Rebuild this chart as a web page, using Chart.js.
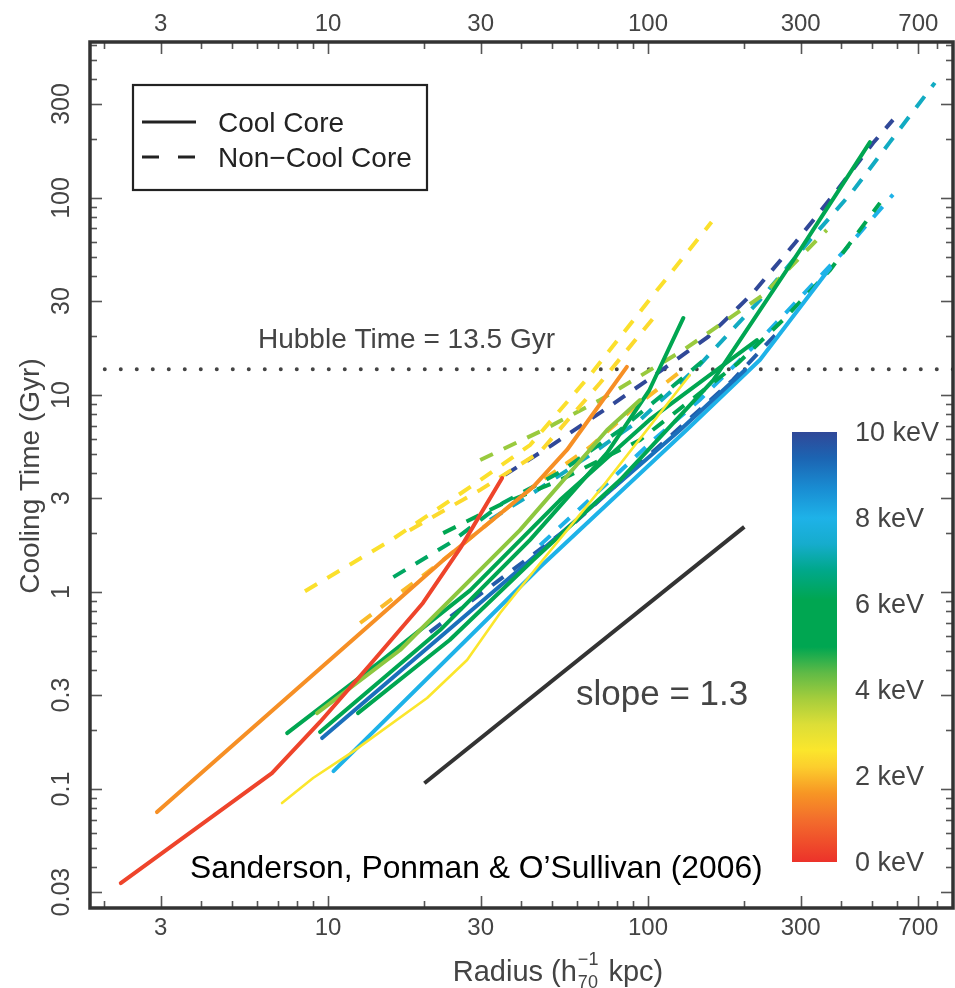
<!DOCTYPE html>
<html><head><meta charset="utf-8">
<script src="https://cdn.jsdelivr.net/npm/chart.js@4/dist/chart.umd.min.js"></script>
<style>html,body{margin:0;padding:0;background:#fff}canvas{display:block}</style>
</head><body>
<canvas id="c" width="955" height="988"></canvas>
<script>
// ---------------- DATA ----------------
const xTickValues = [3, 10, 30, 100, 300, 700];
const yTickValues = [0.03, 0.1, 0.3, 1, 3, 10, 30, 100, 300];
const colorbarTicks = [0, 2, 4, 6, 8, 10];
const hubbleTime = 13.5;
const slopeLine = [[20, 0.107], [200, 2.14]];

// Cool-core clusters (solid): [radius kpc, cooling time Gyr]
const cc1 = [[2.25,0.0333],[6.68,0.1205],[9.44,0.219],[13.5,0.426],[19.8,0.88],[25.9,1.67],[35.0,3.79]];
const cc2 = [[2.92,0.0764],[22.9,1.45],[43.7,3.41],[55.8,5.26],[85.9,13.9]];
const cc3 = [[7.18,0.0849],[8.98,0.1138],[11.9,0.154],[20.4,0.29],[27.2,0.452],[34.5,0.782],[45.0,1.34],[70.8,3.30],[135,12.6]];
const cc4 = [[9.24,0.243],[16.8,0.508],[39.8,2.06],[74.5,6.64],[94.4,9.43]];
const cc5 = [[7.45,0.1924],[14.5,0.441],[27.8,1.02],[53.1,2.93],[101,7.47],[219,19.0]];
const cc6 = [[9.44,0.1946],[22.4,0.641],[42.8,1.84],[74.5,5.08],[101,10.6],[129,24.6]];
const cc7 = [[12.4,0.243],[24.0,0.571],[43.7,1.45],[81.8,3.70],[160,11.9],[299,54.5],[494,192]];
const cc8 = [[9.58,0.1815],[42.8,1.45],[126,6.64],[201,13.4]];
const cc9 = [[10.4,0.1234],[46.0,1.34],[132,6.64],[224,15.1],[371,44.2]];
const coolCoreProfiles = [cc1, cc2, cc3, cc4, cc5, cc6, cc7, cc8, cc9];
const coolCoreKT = [0.3, 1.5, 2.6, 4.0, 5.5, 5.8, 6.0, 9.2, 8.0];

// Non-cool-core clusters (dashed)
const nc1 = [[8.47,1.01],[15.8,1.84],[28.4,3.49],[42.8,5.57],[65.9,12.6],[101,30.4],[158,75.5]];
const nc2 = [[18.0,2.06],[29.9,3.30],[46.0,5.14],[70.8,11.5],[109,27.0]];
const nc3 = [[29.9,4.68],[47.0,6.64],[70.8,9.43],[129,16.9],[229,32.2],[362,68.8]];
const nc4 = [[16.0,1.19],[24.0,1.77],[35.2,2.83],[53.1,4.06],[81.8,6.64],[126,11.9],[156,16.0]];
const nc5 = [[22.9,1.99],[34.5,2.77],[53.1,3.70],[94.4,5.91],[191,14.5],[264,24.0],[371,43.1],[531,94.4]];
const nc6 = [[35.7,3.93],[50.1,5.57],[74.5,8.59],[107,12.9],[154,19.7],[213,33.0],[288,59.1],[384,106],[505,190],[583,249]];
const nc7 = [[32.1,2.32],[43.7,3.18],[64.4,4.84],[94.4,7.47],[145,14.2],[224,30.4],[321,61.2],[434,107],[570,192],[788,384]];
const nc8 = [[46.0,1.73],[70.8,3.30],[104,5.91],[145,9.43],[224,19.0],[413,54.5],[583,104]];
const nc9 = [[12.6,0.696],[21.9,1.37],[43.7,3.41],[65.9,5.45],[92.5,8.90],[132,13.9]];
const nc10 = [[20.8,0.626],[57.0,2.14],[101,4.96],[184,11.9],[253,20.6]];
const nonCoolCoreProfiles = [nc1, nc2, nc3, nc4, nc5, nc6, nc7, nc8, nc9, nc10];
const nonCoolCoreKT = [2.5, 2.4, 3.9, 6.3, 5.8, 10, 7.3, 8.0, 2.0, 9.6];

// ---------------- STYLE ----------------
const FONT = '"Liberation Sans", Arial, Helvetica, sans-serif';
const cmapStops = [
  [0,[236,50,42]],[1,[243,110,44]],[1.6,[247,150,36]],[2.2,[252,205,45]],[2.6,[251,230,44]],
  [3.2,[220,222,55]],[3.8,[165,205,60]],[4.4,[95,186,70]],[5.0,[0,166,81]],[6.1,[0,166,81]],
  [6.8,[0,168,140]],[7.4,[22,172,205]],[8.0,[30,178,232]],[8.7,[25,140,210]],[9.4,[28,100,178]],[10,[48,72,152]]
];
function kTColor(k){
  for (let i=1;i<cmapStops.length;i++){
    if (k <= cmapStops[i][0]){
      const [k0,c0]=cmapStops[i-1],[k1,c1]=cmapStops[i];
      const f=(k-k0)/(k1-k0);
      const c=c0.map((v,j)=>Math.round(v+(c1[j]-v)*f));
      return `rgb(${c[0]},${c[1]},${c[2]})`;
    }
  }
  const c=cmapStops[cmapStops.length-1][1];
  return `rgb(${c[0]},${c[1]},${c[2]})`;
}
const toXY = arr => arr.map(p => ({x:p[0], y:p[1]}));

const datasets = [];
nonCoolCoreProfiles.forEach((p,i)=>datasets.push({
  data: toXY(p), borderColor: kTColor(nonCoolCoreKT[i]), borderWidth: 4,
  borderDash:[14,12], borderCapStyle:'butt', fill:false, pointRadius:0, order:2
}));
coolCoreProfiles.forEach((p,i)=>datasets.push({
  data: toXY(p), borderColor: kTColor(coolCoreKT[i]), borderWidth: (i===2?2.6:4),
  borderCapStyle:'round', borderJoinStyle:'round', fill:false, pointRadius:0, order:1
}));
datasets.push({data: toXY(slopeLine), borderColor:'#333', borderWidth:4, pointRadius:0, order:1});
datasets.push({data: [{x:1.8,y:hubbleTime},{x:900,y:hubbleTime}], borderColor:'#444', borderWidth:4,
  borderDash:[0,16], borderDashOffset:1, borderCapStyle:'round', pointRadius:0, order:3});

function isMajor(v, list){ return list.some(t => Math.abs(Math.log10(v)-Math.log10(t))<1e-6); }

const decorPlugin = {
  id:'decor',
  afterDraw(chart){
    const {ctx, chartArea:a, scales:{x,y}} = chart;
    ctx.save();
    // tick marks (inward) on all four sides
    ctx.strokeStyle='#555'; ctx.lineWidth=1.6;
    const seg=(x1,y1,x2,y2)=>{ctx.beginPath();ctx.moveTo(x1,y1);ctx.lineTo(x2,y2);ctx.stroke();};
    for (let e=0;e<=3;e++) for (let m=1;m<=9;m++){
      const v=m*Math.pow(10,e); if (v<x.min||v>x.max) continue;
      const px=Math.round(x.getPixelForValue(v))+0.5; const L=isMajor(v,xTickValues)?12:7;
      seg(px,a.bottom,px,a.bottom-L); seg(px,a.top,px,a.top+L);
    }
    for (let e=-2;e<=2;e++) for (let m=1;m<=9;m++){
      const v=m*Math.pow(10,e); if (v<y.min||v>y.max) continue;
      const py=Math.round(y.getPixelForValue(v))+0.5; const L=isMajor(v,yTickValues)?12:7;
      seg(a.left,py,a.left+L,py); seg(a.right,py,a.right-L,py);
    }
    // frame
    ctx.strokeStyle='#333'; ctx.lineWidth=3.5;
    ctx.strokeRect(a.left,a.top,a.right-a.left,a.bottom-a.top);

    // tick labels
    ctx.fillStyle='#444'; ctx.font='24px '+FONT; ctx.textAlign='center'; ctx.textBaseline='middle';
    xTickValues.forEach(v=>{ const px=x.getPixelForValue(v); ctx.fillText(String(v),px,928); ctx.fillText(String(v),px,24); });
    ctx.font='25px '+FONT;
    yTickValues.forEach(v=>{ const py=y.getPixelForValue(v);
      ctx.save(); ctx.translate(62,py); ctx.rotate(-Math.PI/2); ctx.fillText(String(v),0,0); ctx.restore(); });
    // axis titles
    ctx.font='28px '+FONT;
    ctx.save(); ctx.translate(31,(a.top+a.bottom)/2+1); ctx.rotate(-Math.PI/2); ctx.fillText('Cooling Time (Gyr)',0,0); ctx.restore();
    // Radius (h_70^-1 kpc)
    ctx.textBaseline='alphabetic'; ctx.textAlign='left';
    const t1='Radius (h', t2=' kpc)';
    ctx.font='29px '+FONT; const w1=ctx.measureText(t1).width, w2=ctx.measureText(t2).width;
    ctx.font='18px '+FONT; const ws=Math.max(ctx.measureText('\u22121').width, ctx.measureText('70').width);
    let sx=558-(w1+ws+w2+3)/2; const by=981;
    ctx.font='29px '+FONT; ctx.fillText(t1,sx,by); sx+=w1+1;
    ctx.font='18px '+FONT; ctx.fillText('\u22121',sx,by-16); ctx.fillText('70',sx,by+7); sx+=ws+2;
    ctx.font='29px '+FONT; ctx.fillText(t2,sx,by);

    // Hubble time label
    ctx.fillStyle='#444'; ctx.font='28px '+FONT;
    ctx.fillText('Hubble Time = 13.5 Gyr',258,348);
    // slope label
    ctx.font='35px '+FONT; ctx.fillText('slope = 1.3',576,705);
    // citation
    ctx.fillStyle='#000'; ctx.font='31.8px '+FONT;
    ctx.fillText('Sanderson, Ponman & O\u2019Sullivan (2006)',190,878);

    // legend box
    ctx.fillStyle='#fff'; ctx.fillRect(133,85,294,105);
    ctx.strokeStyle='#222'; ctx.lineWidth=2.2; ctx.strokeRect(133,85,294,105);
    ctx.lineWidth=3; ctx.strokeStyle='#222';
    ctx.beginPath(); ctx.moveTo(142,122); ctx.lineTo(196,122); ctx.stroke();
    ctx.setLineDash([17,19]); ctx.beginPath(); ctx.moveTo(142,157); ctx.lineTo(196,157); ctx.stroke(); ctx.setLineDash([]);
    ctx.fillStyle='#222'; ctx.font='28px '+FONT;
    ctx.fillText('Cool Core',218,132); ctx.fillText('Non\u2212Cool Core',218,167);

    // colorbar
    const cbX=792, cbW=45, cbTop=432, cbBot=862;
    const g=ctx.createLinearGradient(0,cbBot,0,cbTop);
    cmapStops.forEach(s=>g.addColorStop(s[0]/10,`rgb(${s[1][0]},${s[1][1]},${s[1][2]})`));
    ctx.fillStyle=g; ctx.fillRect(cbX,cbTop,cbW,cbBot-cbTop);
    ctx.fillStyle='#444'; ctx.font='27px '+FONT; ctx.textBaseline='middle';
    colorbarTicks.forEach(k=>{ const py=cbBot-(cbBot-cbTop)*k/10; ctx.fillText(k+' keV',855,py+2); });
    ctx.restore();
  }
};

new Chart(document.getElementById('c').getContext('2d'), {
  type:'line',
  data:{datasets},
  options:{
    responsive:false, animation:false, devicePixelRatio:1,
    layout:{padding:{left:90,top:42,right:2,bottom:80}},
    plugins:{legend:{display:false}, tooltip:{enabled:false}},
    elements:{line:{tension:0}, point:{radius:0}},
    scales:{
      x:{type:'logarithmic', min:1.803, max:898, display:false},
      y:{type:'logarithmic', min:0.0249, max:619, display:false}
    }
  },
  plugins:[decorPlugin]
});
</script>
</body></html>
